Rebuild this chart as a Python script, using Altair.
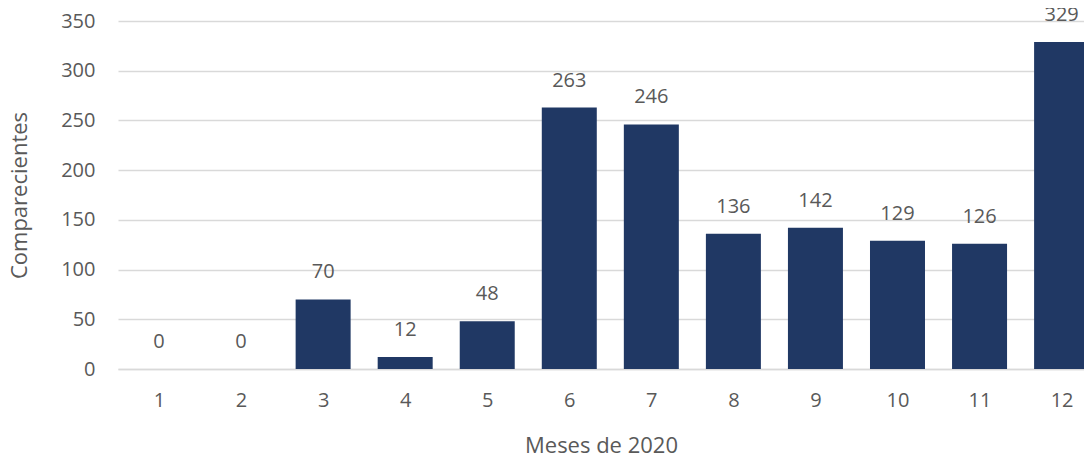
import altair as alt
import pandas as pd

months = list(range(1, 13))
values = [0, 0, 70, 12, 48, 263, 246, 136, 142, 129, 126, 329]
y_ticks = [0, 50, 100, 150, 200, 250, 300, 350]

df = pd.DataFrame({"mes": months, "valor": values})

FONT = "Open Sans"
TXT = "#595959"
GRID = "#d9d9d9"
BAR = "#203864"

x = alt.X(
    "mes:Q",
    title="Meses de 2020",
    scale=alt.Scale(domain=[0.5, 12.273], nice=False, zero=False, padding=0),
    axis=alt.Axis(
        values=months,
        format="d",
        labelAngle=0,
        ticks=False,
        labelPadding=31,
        labelBaseline="middle",
        labelFlush=False,
        titleY=76,
        titleBaseline="middle",
        domainColor=GRID,
        domainWidth=1.5,
        grid=False,
    ),
)

y = alt.Y(
    "valor:Q",
    title="Comparecientes",
    scale=alt.Scale(domain=[0, 350], nice=False),
    axis=alt.Axis(
        values=y_ticks,
        ticks=False,
        domain=False,
        labelPadding=23,
        titleX=-99,
        titleBaseline="middle",
        gridColor=GRID,
        gridWidth=1.5,
    ),
)

base = alt.Chart(df).encode(x=x, y=y)

bars = base.mark_bar(color=BAR, width=55)

labels = base.mark_text(
    font=FONT, fontSize=20, color=TXT, baseline="alphabetic", dy=-21
).encode(text="valor:Q")

chart = (
    alt.layer(bars, labels)
    .properties(
        width=966,
        height=348,
        background="white",
        autosize=alt.AutoSizeParams(type="none"),
        padding={"left": 110, "top": 13, "right": 0, "bottom": 90},
    )
    .configure_view(stroke=None)
    .configure_axis(
        labelFont=FONT,
        labelFontSize=20,
        labelColor=TXT,
        titleFont=FONT,
        titleFontSize=22,
        titleFontWeight="normal",
        titleColor=TXT,
    )
)

chart.save("out.html", embed_options={"renderer": "svg", "actions": False})
